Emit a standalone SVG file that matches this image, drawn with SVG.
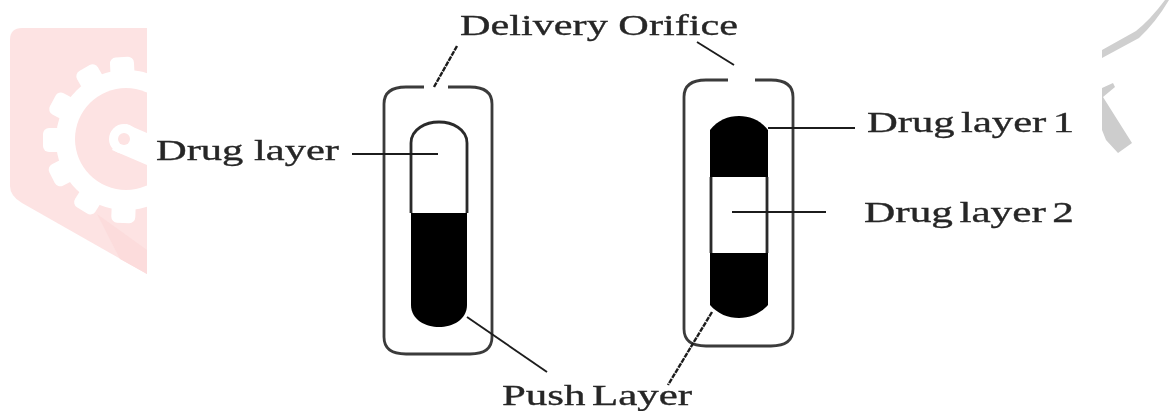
<svg xmlns="http://www.w3.org/2000/svg" width="1176" height="411" viewBox="0 0 1176 411">
<style>
.o{fill:none;stroke:#3a3a3a;stroke-width:2.8}
.i{fill:none;stroke:#2a2a2a;stroke-width:2.8}
.b{fill:#000}
.l{fill:none;stroke:#1c1c1c;stroke-width:1.9}
.d{stroke-dasharray:5 1;stroke-width:2.4}
text{font-family:"Liberation Serif","Times New Roman",serif;font-size:30px;fill:#262626;stroke:#262626;stroke-width:.35}
.t{word-spacing:-3px}
.w{fill:#fff}
.p{fill:#fde3e3}
</style>
<defs>
<clipPath id="wm"><rect x="0" y="0" width="147" height="411"/></clipPath>
<filter id="soft" x="-5%" y="-5%" width="110%" height="110%"><feGaussianBlur stdDeviation="0.55"/></filter>
<rect id="tooth" x="114" y="57" width="24" height="30" rx="6"/>
</defs>
<rect width="1176" height="411" fill="#fff"/>
<g id="watermark">
<g clip-path="url(#wm)">
<path class="p" d="M22 28H147V274L22 203Q10 196 10 186V40Q10 28 22 28Z"/>
<path d="M97 214L147 250V274L120 259Z" fill="#fcdcdc"/>
<circle class="w" cx="126" cy="140" r="70"/>
<g class="w">
<use href="#tooth" transform="rotate(-3 126 140)"/>
<use href="#tooth" transform="rotate(-30 126 140)"/>
<use href="#tooth" transform="rotate(-62 126 140)"/>
<use href="#tooth" transform="rotate(-90 126 140)"/>
<use href="#tooth" transform="rotate(-117 126 140)"/>
<use href="#tooth" transform="rotate(-148 126 140)"/>
<use href="#tooth" transform="rotate(-178 126 140)"/>
</g>
<circle class="p" cx="126" cy="139" r="51"/>
<path class="w" d="M112 150L147 165V133L126 124Z"/>
<circle class="w" cx="124" cy="139" r="15"/>
<circle class="p" cx="124" cy="139" r="6"/>
</g>
<path d="M1165 0Q1150 20 1136 31L1102 50V58L1139 38Q1156 22 1169 0Z" fill="#cfcfcf"/>
<path d="M1102 88L1113 83L1115 87L1103 97L1132 143L1118 153L1106 140L1102 130Z" fill="#cdcdcd"/>
</g>
<g filter="url(#soft)">
<g id="capsule-left">
<path class="o" d="M424 87H406Q384 87 384 104V337Q384 354 406 354H470Q492 354 492 337V104Q492 87 470 87H448"/>
<path class="b" d="M411 213H467V305C467 320 452 327 439 327C426 327 411 320 411 305Z"/>
<path class="i" d="M411 213V143C411 129 426 122 439 122C452 122 467 129 467 143V213"/>
</g>
<g id="capsule-right">
<path class="o" d="M728 80H706Q684 80 684 97V329Q684 346 706 346H771Q793 346 793 329V97Q793 80 771 80H755"/>
<path class="b" d="M710 177V130C718 120 728 116 739 116C750 116 760 120 768 130V177Z"/>
<path class="i" d="M711 177V253M767 177V253"/>
<path class="b" d="M710 253H768V305C760 314 750 318 739 318C728 318 718 314 710 305Z"/>
</g>
<g id="connectors">
<path class="l d" d="M457 46L434 87"/>
<path class="l" d="M697 42L734 65"/>
<path class="l" d="M352 154H438"/>
<path class="l" d="M768 128H855"/>
<path class="l" d="M732 212H826"/>
<path class="l" d="M467 317L547 372"/>
<path class="l d" d="M712 312L668 385"/>
</g>
<g id="labels">
<text x="460" y="35" textLength="278" lengthAdjust="spacingAndGlyphs">Delivery Orifice</text>
<text x="156" y="160" textLength="183" lengthAdjust="spacingAndGlyphs">Drug layer</text>
<text class="t" x="867" y="132" textLength="207" lengthAdjust="spacingAndGlyphs">Drug layer 1</text>
<text class="t" x="864" y="222" textLength="210" lengthAdjust="spacingAndGlyphs">Drug layer 2</text>
<text class="t" x="502" y="405" textLength="190" lengthAdjust="spacingAndGlyphs">Push Layer</text>
</g>
</g>
</svg>
